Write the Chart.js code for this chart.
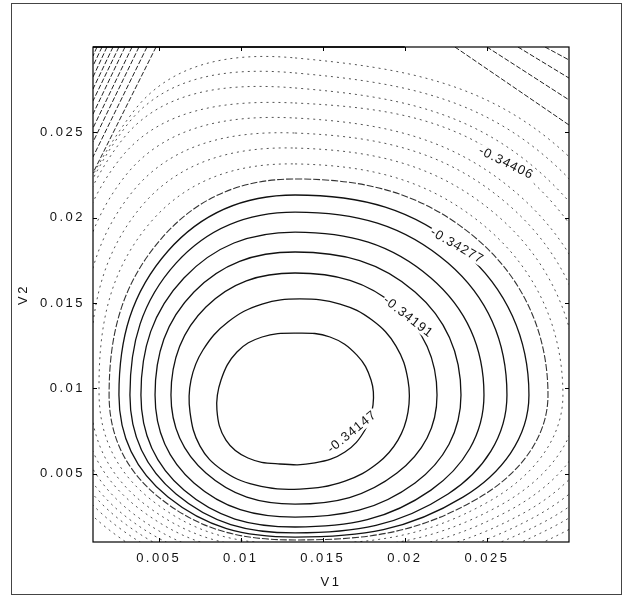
<!DOCTYPE html>
<html>
<head>
<meta charset="utf-8">
<script src="https://cdn.jsdelivr.net/npm/chart.js@4/dist/chart.umd.min.js"></script>
<style>
  html, body { margin: 0; padding: 0; background: #fff; }
  #wrap { width: 622px; height: 598px; position: relative; }
</style>
</head>
<body>
<div id="wrap"><canvas id="js-contour"></canvas></div>
<script>
"use strict";

// axis ticks
const xTicks = [0.005, 0.01, 0.015, 0.02, 0.025];
const xTickLabels = ["0.005", "0.01", "0.015", "0.02", "0.025"];
const yTicks = [0.005, 0.01, 0.015, 0.02, 0.025];
const yTickLabels = ["0.005", "0.01", "0.015", "0.02", "0.025"];

// contour labels (level, position on the line)
const levelLabels = ["-0.34147", "-0.34191", "-0.34277", "-0.34406"];
const labelX = [0.01678, 0.02019, 0.02317, 0.02616];
const labelY = [0.00744, 0.01418, 0.01834, 0.0232];

// contour rings [V1, V2], innermost first
const ring01 = [[0.01331,0.01324],[0.01544,0.01301],[0.01708,0.01195],[0.01794,0.01049],[0.01806,0.00903],[0.01757,0.00756],[0.01635,0.00627],[0.01452,0.00563],[0.01239,0.00557],[0.01044,0.00592],[0.0091,0.00697],[0.00855,0.00873],[0.0088,0.01049],[0.00977,0.01213],[0.0113,0.01301]];
const ring02 = [[0.01361,0.01524],[0.01605,0.01494],[0.018,0.014],[0.01946,0.01248],[0.02019,0.01049],[0.02019,0.00861],[0.01958,0.00697],[0.01836,0.00563],[0.01635,0.00457],[0.01361,0.0041],[0.01087,0.00434],[0.00886,0.00522],[0.00752,0.00662],[0.00691,0.00861],[0.00697,0.01049],[0.0077,0.01225],[0.00922,0.01389],[0.0113,0.01494]];
const ring03 = [[0.01331,0.01676],[0.01952,0.01477],[0.02196,0.00961],[0.01952,0.00504],[0.01331,0.00322],[0.00788,0.00504],[0.00575,0.00961],[0.00788,0.01477]];
const ring04 = [[0.01331,0.01799],[0.02062,0.01565],[0.02342,0.00961],[0.02062,0.00446],[0.01331,0.00246],[0.00715,0.00446],[0.00478,0.00961],[0.00715,0.01565]];
const ring05 = [[0.01331,0.01916],[0.02159,0.01647],[0.02482,0.00961],[0.02159,0.00404],[0.01331,0.00188],[0.00654,0.00404],[0.00392,0.00961],[0.00654,0.01647]];
const ring06 = [[0.01331,0.02033],[0.02263,0.01734],[0.02622,0.00961],[0.02263,0.00381],[0.01331,0.00153],[0.00606,0.00381],[0.00325,0.00961],[0.00606,0.01734]];
const ring07 = [[0.01331,0.02133],[0.02354,0.01805],[0.02756,0.00961],[0.02354,0.00363],[0.01331,0.00129],[0.00557,0.00363],[0.00258,0.00961],[0.00557,0.01805]];
const ring08 = [[0.01331,0.02227],[0.02439,0.01875],[0.02872,0.00961],[0.02439,0.00352],[0.01331,0.00112],[0.00514,0.00352],[0.00198,0.00961],[0.00514,0.01875]];
const ring09 = [[0.01331,0.02315],[0.02506,0.01934],[0.02963,0.00961],[0.02506,0.00334],[0.01331,0.00088],[0.00472,0.00334],[0.00137,0.00961],[0.00447,0.01969]];
const ring10 = [[0.01331,0.02408],[0.02573,0.02004],[0.03055,0.00961],[0.02573,0.00311],[0.01331,0.00059],[0.00429,0.00311],[0.00082,0.00961],[0.00392,0.02063]];
const ring11 = [[0.01331,0.02496],[0.0264,0.02068],[0.03146,0.00961],[0.0264,0.00287],[0.01331,0.00024],[0.00392,0.00287],[0.00027,0.00961],[0.00344,0.02156]];
const ring12 = [[0.01331,0.02584],[0.02701,0.02127],[0.03237,0.00961],[0.02701,0.00258],[0.01331,-0.00012],[0.00356,0.00258],[-0.00022,0.00961],[0.00301,0.0225]];
const ring13 = [[0.01331,0.02672],[0.0275,0.02232],[0.03329,0.00961],[0.02768,0.00235],[0.01331,-0.00047],[0.00319,0.00235],[-0.00071,0.00961],[0.00264,0.02344]];
const ring14 = [[0.01331,0.0276],[0.02835,0.02256],[0.0342,0.00961],[0.02835,0.00211],[0.01331,-0.0008],[0.00289,0.00211],[-0.0012,0.00961],[0.00277,0.02455]];
const ring15 = [[0.01331,0.02848],[0.02902,0.0232],[0.0351,0.00961],[0.02902,0.00188],[0.01331,-0.0012],[0.00252,0.00188],[-0.0017,0.00961],[0.00307,0.02543]];
const ring16 = [[0.01331,0.02936],[0.02969,0.02385],[0.036,0.00961],[0.02969,0.00158],[0.01331,-0.0016],[0.00216,0.00158],[-0.0022,0.00961],[0.00344,0.02619]];

// short pieces of the outermost levels cutting the two top corners
const cornerNW = [
  [[0.00124,0.030],[0.001,0.02947]],
  [[0.00155,0.030],[0.001,0.02889]],
  [[0.00185,0.030],[0.001,0.02824]],
  [[0.00222,0.030],[0.001,0.02754]],
  [[0.00258,0.030],[0.001,0.02684]],
  [[0.00295,0.030],[0.001,0.02607]],
  [[0.00338,0.030],[0.001,0.02525]],
  [[0.0038,0.030],[0.001,0.02443]],
  [[0.00429,0.030],[0.001,0.02356]],
  [[0.00484,0.030],[0.001,0.02262]]
];
const cornerNE = [
  [[0.02305,0.030],[0.030,0.02543]],
  [[0.0250,0.030],[0.030,0.0269]],
  [[0.02689,0.030],[0.030,0.02818]],
  [[0.02854,0.030],[0.030,0.02924]]
];

const rings = [ring01, ring02, ring03, ring04, ring05, ring06, ring07, ring08,
  ring09, ring10, ring11, ring12, ring13, ring14, ring15, ring16];

const FONT = "'Liberation Sans', Arial, sans-serif";
const CLEAR = "rgba(0,0,0,0)";

function ringStyle(i) {
  if (i < 7) return { color: "#111", width: 1.3, dash: [] };
  if (i === 7) return { color: "#333", width: 1.1, dash: [7, 2] };
  return { color: "#555", width: 1, dash: [2, 4] };
}

// closed smooth loop: pad with neighbours, hide the padding segments
function ringDataset(pts, i) {
  const n = pts.length;
  const st = ringStyle(i);
  const loop = [pts[n - 1]].concat(pts, [pts[0], pts[1]]).map(p => ({ x: p[0], y: p[1] }));
  return {
    data: loop,
    showLine: true,
    pointRadius: 0,
    borderColor: st.color,
    borderWidth: st.width,
    borderDash: st.dash,
    tension: 0.4,
    fill: false,
    segment: {
      borderColor: c => (c.p0DataIndex === 0 || c.p0DataIndex === n + 1) ? CLEAR : undefined
    }
  };
}

function pieceDataset(pts) {
  return {
    data: pts.map(p => ({ x: p[0], y: p[1] })),
    showLine: true,
    pointRadius: 0,
    borderColor: "#222",
    borderWidth: 1,
    borderDash: [5, 2],
    tension: 0,
    fill: false
  };
}

let datasets = rings.map(ringDataset)
  .concat(cornerNW.map(pieceDataset))
  .concat(cornerNE.map(pieceDataset));

const labelAngle = [-39, 38, 30, 26];

const paperPlugin = {
  id: "paper",
  beforeDraw(chart) {
    const ctx = chart.ctx;
    ctx.save();
    ctx.fillStyle = "#fff";
    ctx.fillRect(0, 0, chart.width, chart.height);
    ctx.strokeStyle = "#444";
    ctx.lineWidth = 1;
    ctx.strokeRect(11.5, 3.5, chart.width - 12, chart.height - 7);
    ctx.restore();
    ctx.letterSpacing = "2.5px";
  }
};

const framePlugin = {
  id: "frame",
  afterDatasetsDraw(chart) {
    const ctx = chart.ctx;
    const a = chart.chartArea;
    const sx = chart.scales.x;
    const sy = chart.scales.y;
    ctx.save();
    ctx.strokeStyle = "#000";
    ctx.lineWidth = 1.2;
    ctx.strokeRect(a.left, a.top, a.right - a.left, a.bottom - a.top);
    ctx.beginPath();
    ctx.lineWidth = 1.6;
    ctx.moveTo(a.left, a.top);
    ctx.lineTo(sx.getPixelForValue(0.02), a.top);
    ctx.stroke();

    // inward ticks
    ctx.lineWidth = 1;
    ctx.beginPath();
    xTicks.forEach(v => {
      const px = Math.round(sx.getPixelForValue(v)) + 0.5;
      ctx.moveTo(px, a.bottom); ctx.lineTo(px, a.bottom - 4);
      ctx.moveTo(px, a.top); ctx.lineTo(px, a.top + 4);
    });
    yTicks.forEach(v => {
      const py = Math.round(sy.getPixelForValue(v)) + 0.5;
      ctx.moveTo(a.left, py); ctx.lineTo(a.left + 4, py);
      ctx.moveTo(a.right, py); ctx.lineTo(a.right - 4, py);
    });
    ctx.stroke();

    // level labels sitting in gaps of their lines
    ctx.font = "13px " + FONT;
    ctx.letterSpacing = "1px";
    ctx.textAlign = "center";
    ctx.textBaseline = "middle";
    levelLabels.forEach((t, i) => {
      const px = sx.getPixelForValue(labelX[i]);
      const py = sy.getPixelForValue(labelY[i]);
      const w = ctx.measureText(t).width;
      ctx.save();
      ctx.translate(px, py);
      ctx.rotate(labelAngle[i] * Math.PI / 180);
      ctx.fillStyle = "#fff";
      ctx.fillRect(-w / 2 - 1, -6, w + 2, 12);
      ctx.fillStyle = "#111";
      ctx.fillText(t, 0, 0);
      ctx.restore();
    });
    ctx.restore();
  }
};

let ctx = document.getElementById("js-contour").getContext("2d");
let myChart = new Chart(ctx, {
  type: "scatter",
  data: { datasets: datasets },
  options: {
    responsive: true,
    maintainAspectRatio: false,
    animation: false,
    events: [],
    layout: { padding: { left: 0, right: 53, top: 47, bottom: 0 } },
    plugins: { legend: { display: false }, tooltip: { enabled: false } },
    scales: {
      x: {
        type: "linear",
        min: 0.001,
        max: 0.030,
        afterBuildTicks: s => { s.ticks = xTicks.map(v => ({ value: v })); },
        afterFit: s => { s.height = 56; },
        grid: { display: false, drawTicks: false },
        border: { display: false },
        ticks: {
          padding: 9, color: "#111", maxRotation: 0, autoSkip: false,
          font: { family: FONT, size: 13 },
          callback: (v, i) => xTickLabels[i]
        },
        title: {
          display: true, text: "V1", color: "#111",
          font: { family: FONT, size: 13 },
          padding: { top: 0, bottom: 8 }
        }
      },
      y: {
        type: "linear",
        min: 0.001,
        max: 0.030,
        afterBuildTicks: s => { s.ticks = yTicks.map(v => ({ value: v })); },
        afterFit: s => { s.width = 93; },
        grid: { display: false, drawTicks: false },
        border: { display: false },
        ticks: {
          padding: 8, color: "#111", autoSkip: false,
          font: { family: FONT, size: 13 },
          callback: (v, i) => yTickLabels[i]
        },
        title: {
          display: true, text: "V2", color: "#111",
          font: { family: FONT, size: 13 },
          padding: { top: 16, bottom: 0 }
        }
      }
    }
  },
  plugins: [paperPlugin, framePlugin]
});
</script>
</body>
</html>
